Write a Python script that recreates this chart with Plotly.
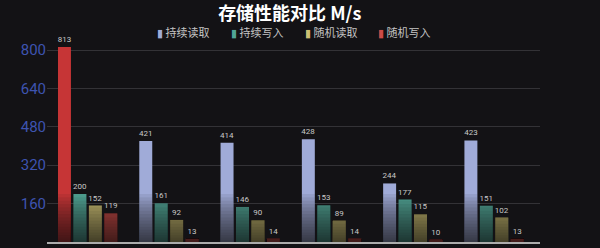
import plotly.graph_objects as go

categories = ["机型1", "机型2", "机型3", "机型4", "机型5", "机型6"]
series_names = ["持续读取", "持续写入", "随机读取", "随机写入"]
seq_read = [813, 421, 414, 428, 244, 423]
seq_write = [200, 161, 146, 153, 177, 151]
rand_read = [152, 92, 90, 89, 115, 102]
rand_write = [119, 13, 14, 14, 10, 13]
series_values = [seq_read, seq_write, rand_read, rand_write]
colors = ["#a0abd8", "#51a596", "#cdbf74", "#cc4b47"]
highlight = "#c63536"

# plot area in pixels (used for paper-coordinate conversion of decorations)
L, R, T, B, W, H = 47, 60, 41, 6, 600, 248
PW, PH = W - L - R, H - T - B

fig = go.Figure()
fade_caps = [200, 186, 172, 158, 144, 130, 116, 102, 89, 76, 63, 51, 39, 28, 18, 9]
for i, (name, vals) in enumerate(zip(series_names, series_values)):
    col = [colors[i]] * len(vals)
    if i == 0:
        col[0] = highlight
    fig.add_trace(go.Bar(
        x=categories, y=vals, name=name, offsetgroup=str(i), showlegend=False,
        marker=dict(color=col, line=dict(width=0)),
        text=[str(v) for v in vals], textposition="outside", constraintext="none",
        textfont=dict(size=8, color="#c8c8c8", family="Roboto"),
        cliponaxis=False,
    ))
    # darkening overlays (fade to dark towards the bottom of each bar)
    for cap in fade_caps:
        fig.add_trace(go.Bar(
            x=categories, y=[min(v, cap) for v in vals], offsetgroup=str(i),
            showlegend=False, hoverinfo="skip",
            marker=dict(color="rgba(8,8,12,0.07)", line=dict(width=0)),
        ))

# legend drawn as annotations
leg_px = [155, 229, 303, 376]
for i, name in enumerate(series_names):
    fig.add_annotation(
        xref="paper", yref="paper", x=(leg_px[i] - L) / PW, y=(H - B - 32) / PH,
        xanchor="left", yanchor="middle", showarrow=False,
        text=f"<span style='color:{colors[i]};font-family:DejaVu Sans'>▮</span> {name}",
        font=dict(size=11, color="#c4c4c4", family="Noto Sans CJK SC"),
    )

fig.update_layout(
    width=W, height=H,
    margin=dict(l=L, r=R, t=T, b=B),
    paper_bgcolor="#131215", plot_bgcolor="rgba(0,0,0,0)",
    barmode="group", bargap=0.24, bargroupgap=0.16,
    title=dict(text="<b>存储性能对比 M/s</b>", x=0.483, xanchor="center", y=0.945, yanchor="middle",
               font=dict(size=18, color="#ffffff", family="Noto Sans CJK SC")),
    xaxis=dict(range=[-0.5, 5.565], showticklabels=False, showgrid=False,
               showline=True, linecolor="#acacac", linewidth=2, zeroline=False, ticks=""),
    yaxis=dict(range=[0, 837.5], tickvals=[160, 320, 480, 640, 800], showline=False,
               gridcolor="#333236", gridwidth=1, zeroline=False,
               tickfont=dict(size=15, color="#3e54b0", family="Roboto"), ticks=""),
    font=dict(family="Noto Sans CJK SC"),
    showlegend=False,
)
fig.write_html("out.html")
